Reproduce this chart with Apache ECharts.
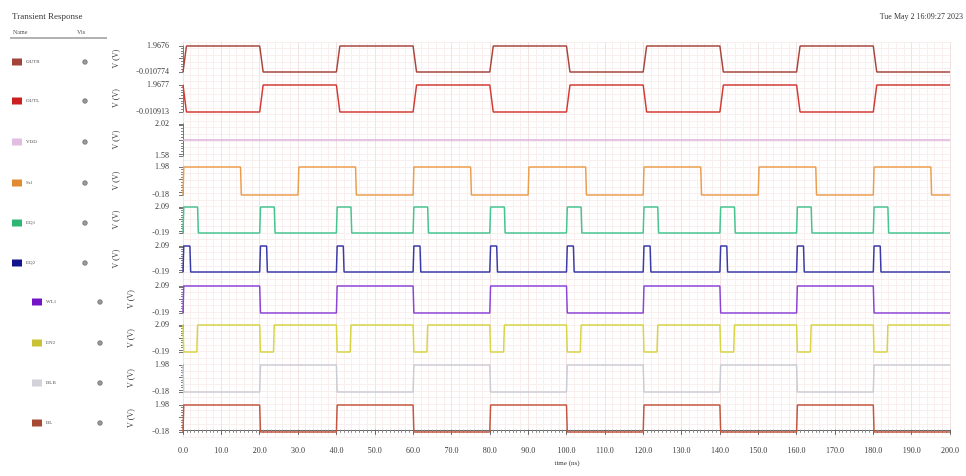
<!DOCTYPE html>
<html>
<head>
<meta charset="utf-8">
<script src="https://cdn.jsdelivr.net/npm/echarts@6/dist/echarts.min.js"></script>
<style>
  html, body { margin: 0; padding: 0; background: #fff; }
  #chart { width: 966px; height: 476px; }
</style>
</head>
<body>
<div id="chart"></div>
<script>
// ---- Signal data (time in ns, voltages in V) ----
const signalNames = ['OUTR', 'OUTL', 'VDD', 'Sel', 'EQ1', 'EQ2', 'WL1', 'EN2', 'BLB', 'BL'];
const lowLevels  = [-0.010774, -0.010913, 1.8, -0.18, -0.19, -0.19, -0.19, -0.19, -0.18, -0.18];
const highLevels = [1.9676, 1.9677, 1.8, 1.98, 2.09, 2.09, 2.09, 2.09, 1.98, 1.98];
const axisMins   = [-0.010774, -0.010913, 1.58, -0.18, -0.19, -0.19, -0.19, -0.19, -0.18, -0.18];
const axisMaxs   = [1.9676, 1.9677, 2.02, 1.98, 2.09, 2.09, 2.09, 2.09, 1.98, 1.98];
const minLabels  = ['-0.010774', '-0.010913', '1.58', '-0.18', '-0.19', '-0.19', '-0.19', '-0.19', '-0.18', '-0.18'];
const maxLabels  = ['1.9676', '1.9677', '2.02', '1.98', '2.09', '2.09', '2.09', '2.09', '1.98', '1.98'];
// level held before the first edge: 1 = high, 0 = low
const startLevels = [0, 1, 0, 0, 0, 0, 0, 1, 1, 0];
// transition times (ns) of each waveform
const outrEdges = [0, 20, 40, 60, 80, 100, 120, 140, 160, 180];
const outlEdges = [0, 20, 40, 60, 80, 100, 120, 140, 160, 180];
const vddEdges  = [];
const selEdges  = [0, 15, 30, 45, 60, 75, 90, 105, 120, 135, 150, 165, 180, 195];
const eq1Edges  = [0, 3.8, 20, 23.8, 40, 43.8, 60, 63.8, 80, 83.8, 100, 103.8, 120, 123.8, 140, 143.8, 160, 163.8, 180, 183.8];
const eq2Edges  = [0, 1.8, 20, 21.8, 40, 41.8, 60, 61.8, 80, 81.8, 100, 101.8, 120, 121.8, 140, 141.8, 160, 161.8, 180, 181.8];
const wl1Edges  = [0, 20, 40, 60, 80, 100, 120, 140, 160, 180];
const en2Edges  = [0, 3.6, 20, 23.6, 40, 43.6, 60, 63.6, 80, 83.6, 100, 103.6, 120, 123.6, 140, 143.6, 160, 163.6, 180, 183.6];
const blbEdges  = [0, 20, 40, 60, 80, 100, 120, 140, 160, 180];
const blEdges   = [0, 20, 40, 60, 80, 100, 120, 140, 160, 180];
const riseTimes = [0.9, 0.9, 0, 0.2, 0.2, 0.2, 0.2, 0.2, 0.2, 0.2];
const timeRange = [0, 200];

const allEdges = [outrEdges, outlEdges, vddEdges, selEdges, eq1Edges, eq2Edges, wl1Edges, en2Edges, blbEdges, blEdges];

// ---- Styling ----
const lineColors   = ['#a8463c', '#d23a32', '#dcb0dc', '#eb9d4e', '#45c48e', '#3a3aa8', '#8c44d8', '#d8d444', '#cbcbd3', '#c4553f'];
const swatchColors = ['#a2443a', '#cc1f22', '#e2bde2', '#e08a32', '#2fb574', '#14148e', '#7414c8', '#c8c234', '#d2d2da', '#a64a34'];
const panelTops    = [46, 85, 124, 167, 207, 246, 286, 325, 365, 405];
const panelHeights = [26, 27, 32, 28, 26, 26, 27, 27, 27, 27];
const legendY      = [62, 101, 142, 183, 223, 263, 302, 343, 383, 423];
const plotLeft = 183, plotRight = 16;
const serif = '"Liberation Serif", "DejaVu Serif", serif';
const textColor = '#3a3a3a';

// Turn a list of transition times into a piecewise-linear waveform.
function buildWave(edges, startHigh, lo, hi, rise) {
  let high = !!startHigh;
  const pts = [[timeRange[0], high ? hi : lo]];
  edges.forEach(t => {
    const from = high ? hi : lo;
    high = !high;
    const to = high ? hi : lo;
    pts.push([t, from]);
    pts.push([t + rise, to]);
  });
  pts.push([timeRange[1], high ? hi : lo]);
  return pts;
}

const grids = [], xAxes = [], yAxes = [], series = [], graphics = [];

signalNames.forEach((name, i) => {
  grids.push({ left: plotLeft, right: plotRight, top: panelTops[i], height: panelHeights[i] });
  const isBottom = i === signalNames.length - 1;
  xAxes.push({
    type: 'value', gridIndex: i, min: timeRange[0], max: timeRange[1],
    show: isBottom,
    interval: 10,
    offset: 8,
    axisLine: { show: true, lineStyle: { color: '#666', width: 1 } },
    axisTick: { show: true, length: 5, lineStyle: { color: '#666' } },
    minorTick: { show: true, splitNumber: 10, length: 3, lineStyle: { color: '#888' } },
    axisLabel: {
      show: true, margin: 7, fontFamily: serif, fontSize: 8, color: textColor,
      formatter: v => v.toFixed(1)
    },
    splitLine: { show: false },
    minorSplitLine: { show: false }
  });
  const lo = axisMins[i], hi = axisMaxs[i];
  yAxes.push({
    type: 'value', gridIndex: i, min: lo, max: hi,
    splitNumber: 2,
    offset: 11,
    axisLine: { show: true, lineStyle: { color: '#777', width: 1 } },
    axisTick: { show: true, length: 4, lineStyle: { color: '#777' } },
    minorTick: { show: true, splitNumber: 5, length: 2, lineStyle: { color: '#888' } },
    axisLabel: {
      show: true, margin: 3, fontFamily: serif, fontSize: 8, color: textColor,
      customValues: [lo, hi],
      formatter: v => (Math.abs(v - lo) < Math.abs(v - hi) ? minLabels[i] : maxLabels[i])
    },
    splitLine: { show: false },
    minorSplitLine: { show: false }
  });
  series.push({
    type: 'line', name: name, xAxisIndex: i, yAxisIndex: i,
    data: buildWave(allEdges[i], startLevels[i], lowLevels[i], highLevels[i], riseTimes[i]),
    showSymbol: false, symbol: 'none', clip: false,
    lineStyle: { color: lineColors[i], width: 1.5 },
    z: 3
  });

  // Y-axis unit title
  graphics.push({
    type: 'text', x: i < 6 ? 116 : 131, y: panelTops[i] + panelHeights[i] / 2, rotation: Math.PI / 2,
    style: { text: 'V (V)', fontFamily: serif, fontSize: 8, fill: textColor, align: 'center', verticalAlign: 'middle' }
  });

  // Legend row: colour swatch, name, visibility marker
  const sx = i < 6 ? 12 : 32;
  const dotX = i < 6 ? 85 : 100;
  graphics.push({ type: 'rect', shape: { x: sx, y: legendY[i] - 3.5, width: 10, height: 7 }, style: { fill: swatchColors[i] } });
  graphics.push({
    type: 'text', x: sx + 14, y: legendY[i],
    style: { text: name, fontFamily: serif, fontSize: 5, fill: '#555', align: 'left', verticalAlign: 'middle' }
  });
  graphics.push({ type: 'circle', shape: { cx: dotX, cy: legendY[i], r: 2.3 }, style: { fill: '#9a9a9a', stroke: '#6e6e6e', lineWidth: 0.8 } });
});

// Background grid shared by all strips
const bgIndex = signalNames.length;
grids.push({ left: plotLeft, right: plotRight, top: 42, bottom: 39 });
xAxes.push({
  type: 'value', gridIndex: bgIndex, min: timeRange[0], max: timeRange[1], interval: 10,
  axisLine: { show: false }, axisTick: { show: false }, axisLabel: { show: false },
  splitLine: { show: true, lineStyle: { color: '#f3e2e2', width: 1 } },
  minorTick: { show: false, splitNumber: 5 },
  minorSplitLine: { show: true, lineStyle: { color: '#f9efef', width: 1 } }
});
yAxes.push({
  type: 'value', gridIndex: bgIndex, min: 0, max: 60, interval: 1,
  axisLine: { show: false }, axisTick: { show: false }, axisLabel: { show: false },
  splitLine: { show: true, lineStyle: { color: '#f9efef', width: 1 } }
});

// Header texts
graphics.push(
  { type: 'text', x: 12, y: 17, style: { text: 'Transient Response', fontFamily: serif, fontSize: 9, fill: textColor, verticalAlign: 'middle' } },
  { type: 'text', x: 13, y: 32, style: { text: 'Name', fontFamily: serif, fontSize: 6, fill: '#555', verticalAlign: 'middle' } },
  { type: 'text', x: 77, y: 32, style: { text: 'Vis', fontFamily: serif, fontSize: 6, fill: '#555', verticalAlign: 'middle' } },
  { type: 'line', shape: { x1: 10, y1: 38, x2: 107, y2: 38 }, style: { stroke: '#666', lineWidth: 1 } },
  { type: 'text', x: 963, y: 17, style: { text: 'Tue May 2 16:09:27 2023', fontFamily: serif, fontSize: 8, fill: textColor, align: 'right', verticalAlign: 'middle' } },
  { type: 'text', x: 567, y: 463, style: { text: 'time (ns)', fontFamily: serif, fontSize: 7, fill: textColor, align: 'center', verticalAlign: 'middle' } }
);

const chart = echarts.init(document.getElementById('chart'), null, { renderer: 'canvas' });
chart.setOption({
  animation: false,
  backgroundColor: '#ffffff',
  grid: grids,
  xAxis: xAxes,
  yAxis: yAxes,
  series: series,
  graphic: graphics
});
</script>
</body>
</html>
